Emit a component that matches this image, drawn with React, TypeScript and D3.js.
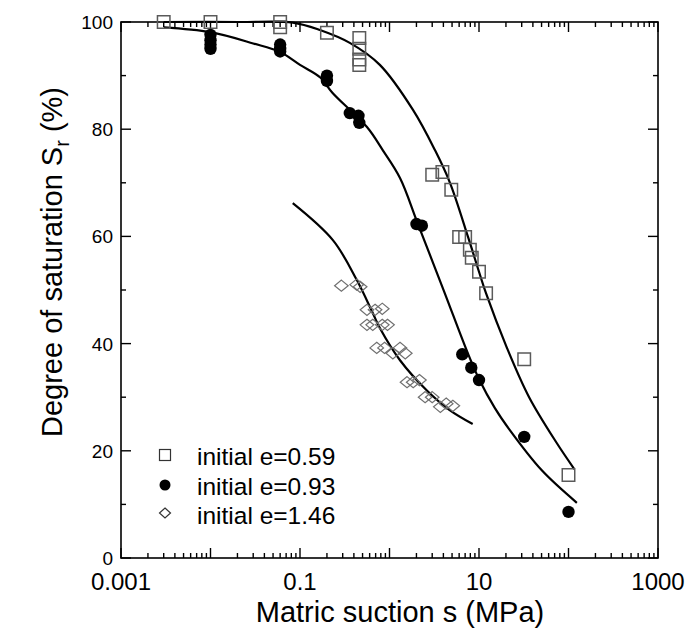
import React, { useEffect, useRef } from 'react';
import * as d3 from 'd3';

// measured points, e = 0.59 (open squares)
const squareSuction = [0.003, 0.01, 0.06, 0.06, 0.2, 0.46, 0.46, 0.46, 0.46, 3.0, 3.9, 4.9, 6.0, 7.0, 7.9, 8.3, 10, 12, 32, 100];
const squareSat = [100, 100, 100, 99, 98, 97, 95, 93, 92, 71.5, 72, 68.7, 59.9, 59.9, 57.5, 56, 53.4, 49.4, 37.1, 15.5];

// measured points, e = 0.93 (filled circles)
const circleSuction = [0.01, 0.01, 0.01, 0.01, 0.06, 0.06, 0.06, 0.2, 0.2, 0.36, 0.45, 0.46, 2.0, 2.3, 6.5, 8.2, 10, 32, 100];
const circleSat = [97.6, 96.6, 95.8, 95, 95.8, 95, 94.5, 90, 89, 83, 82.5, 81.2, 62.3, 62, 38, 35.5, 33.2, 22.6, 8.6];

// measured points, e = 1.46 (open diamonds)
const diamondSuction = [0.29, 0.43, 0.47, 0.56, 0.69, 0.83, 0.56, 0.65, 0.83, 0.95, 0.72, 0.88, 1.09, 1.31, 1.5, 1.57, 1.84, 2.16, 2.5, 3.0, 3.7, 4.3, 5.1];
const diamondSat = [50.8, 51, 50.6, 46.3, 46.3, 46.5, 43.5, 43.5, 43.5, 43.5, 39.2, 39.2, 38.2, 39.2, 38.2, 32.8, 32.8, 33.2, 30, 30, 28.2, 28.8, 28.4];

// fitted curves
const fitASuction = [0.003, 0.021, 0.083, 0.167, 0.36, 0.78, 1.83, 3.22, 4.74, 7.54, 10, 11.97, 20.3, 36.3, 73.6, 116];
const fitASat = [100, 100, 99.9, 98.5, 96.1, 92, 83.6, 76.1, 70, 59.9, 53.4, 49.4, 39.4, 30, 21.5, 16.6];
const fitBSuction = [0.003, 0.01, 0.03, 0.06, 0.1, 0.17, 0.23, 0.56, 0.84, 1.31, 2.08, 4.06, 7.5, 10, 15, 22, 50, 124];
const fitBSat = [99, 98.1, 96, 94.4, 92, 89.6, 86.8, 80.4, 76.1, 70.9, 62.3, 49.8, 38.2, 33.4, 28, 23.9, 16.4, 10.3];
const fitCSuction = [0.083, 0.233, 0.43, 0.65, 0.78, 1.31, 2.6, 4.7, 8.5];
const fitCSat = [66.2, 59.3, 51.9, 45.7, 42.9, 36.9, 31.3, 27.6, 25];

const xTickLabels = ['0.001', '0.1', '10', '1000'];
const yTicks = [0, 20, 40, 60, 80, 100];
const legendLabels = ['initial e=0.59', 'initial e=0.93', 'initial e=1.46'];

const W = 692;
const H = 635;
const FONT = '"Liberation Sans", Arial, sans-serif';

function App() {
  const svgRef = useRef(null);

  useEffect(() => {
    const svg = d3.select(svgRef.current);
    svg.selectAll('*').remove();

    const x = d3.scaleLog().domain([0.001, 1000]).range([121, 658]);
    const y = d3.scaleLinear().domain([0, 100]).range([558, 22]);
    const [x0, x1] = x.range();
    const [y0, y1] = y.range();

    const g = svg.append('g');

    // ticks, all pointing inwards, mirrored on top and right
    const decades = d3.range(-3, 4).map(p => Math.pow(10, p));
    const minors: number[] = [];
    decades.slice(0, -1).forEach(d => { for (let k = 2; k <= 9; k++) minors.push(d * k); });
    const tickG = g.append('g').attr('stroke', '#000').attr('stroke-width', 1.4);
    const xTick = (v: number, len: number) => {
      tickG.append('line').attr('x1', x(v)).attr('x2', x(v)).attr('y1', y0).attr('y2', y0 - len);
      tickG.append('line').attr('x1', x(v)).attr('x2', x(v)).attr('y1', y1).attr('y2', y1 + len);
    };
    decades.forEach(v => xTick(v, 10));
    minors.forEach(v => xTick(v, 5));
    const yTick = (v: number, len: number) => {
      tickG.append('line').attr('x1', x0).attr('x2', x0 + len).attr('y1', y(v)).attr('y2', y(v));
      tickG.append('line').attr('x1', x1).attr('x2', x1 - len).attr('y1', y(v)).attr('y2', y(v));
    };
    d3.range(0, 101, 20).forEach(v => yTick(v, 10));
    d3.range(10, 100, 20).forEach(v => yTick(v, 5));

    // frame
    g.append('rect')
      .attr('x', x0).attr('y', y1)
      .attr('width', x1 - x0).attr('height', y0 - y1)
      .attr('fill', 'none').attr('stroke', '#000').attr('stroke-width', 1.6);

    // tick labels
    g.selectAll('.xl').data(xTickLabels).enter().append('text')
      .attr('x', d => x(+d)).attr('y', y0 + 32)
      .attr('text-anchor', 'middle')
      .attr('font-family', FONT).attr('font-size', 24)
      .text(d => d);
    g.selectAll('.yl').data(yTicks).enter().append('text')
      .attr('x', x0 - 8).attr('y', d => y(d) + 7)
      .attr('text-anchor', 'end')
      .attr('font-family', FONT).attr('font-size', 19)
      .text(d => d);

    // axis titles
    g.append('text')
      .attr('x', 400).attr('y', 622)
      .attr('text-anchor', 'middle')
      .attr('font-family', FONT).attr('font-size', 29)
      .text('Matric suction s (MPa)');
    const yt = g.append('text')
      .attr('transform', 'translate(62, 262) rotate(-90)')
      .attr('text-anchor', 'middle')
      .attr('font-family', FONT).attr('font-size', 29);
    yt.append('tspan').text('Degree of saturation S');
    yt.append('tspan').attr('font-size', 20).attr('dy', 7).text('r');
    yt.append('tspan').attr('dy', -7).text(' (%)');

    // fitted curves
    const line = d3.line<[number, number]>()
      .x(d => x(d[0])).y(d => y(d[1]))
      .curve(d3.curveCatmullRom.alpha(0.5));
    const fits = [
      d3.zip(fitASuction, fitASat),
      d3.zip(fitBSuction, fitBSat),
      d3.zip(fitCSuction, fitCSat),
    ];
    g.selectAll('.fit').data(fits).enter().append('path')
      .attr('d', d => line(d as [number, number][]))
      .attr('fill', 'none').attr('stroke', '#000').attr('stroke-width', 2.2);

    // markers
    const sq = d3.symbol().type(d3.symbolSquare).size(156);
    const diamond = (hw: number, hh: number) => `M0,${-hh}L${hw},0L0,${hh}L${-hw},0Z`;
    g.selectAll('.sq').data(d3.zip(squareSuction, squareSat)).enter().append('path')
      .attr('transform', d => `translate(${x(d[0])},${y(d[1])})`)
      .attr('d', sq)
      .attr('fill', 'none').attr('stroke', '#5a5a5a').attr('stroke-width', 1.5);
    g.selectAll('.ci').data(d3.zip(circleSuction, circleSat)).enter().append('circle')
      .attr('cx', d => x(d[0])).attr('cy', d => y(d[1])).attr('r', 6.2)
      .attr('fill', '#000');
    g.selectAll('.dm').data(d3.zip(diamondSuction, diamondSat)).enter().append('path')
      .attr('transform', d => `translate(${x(d[0])},${y(d[1])})`)
      .attr('d', diamond(6.8, 5.6))
      .attr('fill', 'none').attr('stroke', '#707070').attr('stroke-width', 1.2);

    // legend
    const lg = g.append('g').attr('transform', 'translate(165, 455)');
    lg.append('rect').attr('x', -5.5).attr('y', -5.5).attr('width', 11).attr('height', 11)
      .attr('fill', 'none').attr('stroke', '#333').attr('stroke-width', 1.2);
    lg.append('circle').attr('cy', 30).attr('r', 5.5).attr('fill', '#000');
    lg.append('path').attr('transform', 'translate(0,58)')
      .attr('d', diamond(5.5, 5))
      .attr('fill', 'none').attr('stroke', '#333').attr('stroke-width', 1.2);
    lg.selectAll('.lt').data(legendLabels).enter().append('text')
      .attr('x', 32).attr('y', (d, i) => i * 29.5 + 10)
      .attr('font-family', FONT).attr('font-size', 24.5)
      .text(d => d);
  }, []);

  return (
    <svg ref={svgRef} width={W} height={H}
      style={{ position: 'absolute', left: 0, top: 0, background: '#fff' }} />
  );
}

export default App;
